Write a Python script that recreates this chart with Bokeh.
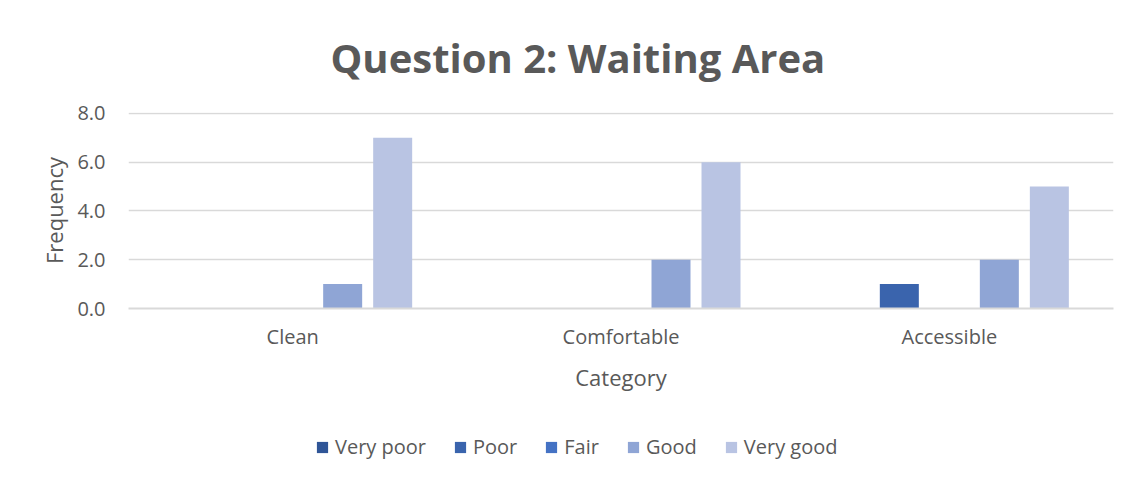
from bokeh.plotting import figure
from bokeh.layouts import column
from bokeh.models import ColumnDataSource, Range1d, FactorRange, Legend, LegendItem, SingleIntervalTicker, NumeralTickFormatter
from bokeh.transform import dodge
from bokeh.embed import file_html
from bokeh.resources import INLINE

categories = ["Clean", "Comfortable", "Accessible"]
series = ["Very poor", "Poor", "Fair", "Good", "Very good"]
very_poor = [0, 0, 0]
poor = [0, 0, 1]
fair = [0, 0, 0]
good = [1, 2, 2]
very_good = [7, 6, 5]
colors = ["#2F5597", "#3A64AD", "#4472C4", "#8FA5D5", "#B9C4E3"]

FONT = "Open Sans"
GRAY = "#595959"

src = ColumnDataSource(dict(cat=categories, vp=very_poor, p=poor, f=fair, g=good, vg=very_good))
cols = ["vp", "p", "f", "g", "vg"]

p = figure(frame_width=985, frame_height=196, x_range=FactorRange(*categories), y_range=Range1d(0, 8.04),
           output_backend="svg", toolbar_location=None,
           min_border_left=128, min_border_right=27, min_border_top=112, min_border_bottom=102)
p.outline_line_color = None

p.title.text = "Question 2: Waiting Area"
p.title.align = "left"
p.title.text_font = FONT
p.title.text_font_size = "40px"
p.title.text_font_style = "bold"
p.title.text_color = GRAY
p.title.standoff = 55
p.title.offset = 202

step = 50 / 328.3
bw = 39 / 328.3
for i, (c, col) in enumerate(zip(cols, colors)):
    p.vbar(x=dodge("cat", (i - 2) * step, range=p.x_range), top=c, width=bw, source=src,
           fill_color=col, line_color=None)

p.yaxis.ticker = SingleIntervalTicker(interval=2)
p.yaxis.formatter = NumeralTickFormatter(format="0.0")
p.yaxis.axis_line_color = None
p.yaxis.major_tick_line_color = None
p.yaxis.minor_tick_line_color = None
p.yaxis.major_label_text_font = FONT
p.yaxis.major_label_text_font_size = "20px"
p.yaxis.major_label_text_color = GRAY
p.yaxis.major_label_standoff = 17
p.yaxis.axis_label = "Frequency"
p.yaxis.axis_label_text_font = FONT
p.yaxis.axis_label_text_font_size = "22px"
p.yaxis.axis_label_text_font_style = "normal"
p.yaxis.axis_label_text_color = GRAY
p.yaxis.axis_label_standoff = 5

p.xaxis.axis_line_color = "#D9D9D9"
p.xaxis.axis_line_width = 2
p.xaxis.major_tick_line_color = None
p.xaxis.minor_tick_line_color = None
p.xaxis.major_label_text_font = FONT
p.xaxis.major_label_text_font_size = "20px"
p.xaxis.major_label_text_color = GRAY
p.xaxis.major_label_standoff = 8
p.xaxis.axis_label = "Category"
p.xaxis.axis_label_text_font = FONT
p.xaxis.axis_label_text_font_size = "22px"
p.xaxis.axis_label_text_font_style = "normal"
p.xaxis.axis_label_text_color = GRAY
p.xaxis.axis_label_standoff = 9

p.xgrid.grid_line_color = None
p.ygrid.grid_line_color = "#D9D9D9"
p.ygrid.grid_line_width = 1.5

# legend strip below the chart
p2 = figure(width=1140, height=74, x_range=FactorRange(*categories), y_range=Range1d(100, 101),
            output_backend="svg", toolbar_location=None,
            min_border_left=12, min_border_right=0, min_border_top=0, min_border_bottom=0)
p2.outline_line_color = None
p2.axis.visible = False
p2.grid.grid_line_color = None
items = []
for i, (c, s, col) in enumerate(zip(cols, series, colors)):
    r = p2.vbar(x=dodge("cat", (i - 2) * step, range=p2.x_range), top=c, width=bw, source=src,
                fill_color=col, line_color=None)
    items.append(LegendItem(label=s, renderers=[r]))

legend = Legend(items=items, orientation="horizontal", location=(187, 24),
                label_text_font=FONT, label_text_font_size="20px", label_text_color=GRAY,
                glyph_width=14, glyph_height=14, label_standoff=6, spacing=27,
                border_line_color=None, background_fill_alpha=0, margin=0, padding=0)
p2.add_layout(legend)

layout = column(p, p2, spacing=0)
open("out.html", "w").write(file_html(layout, INLINE))
